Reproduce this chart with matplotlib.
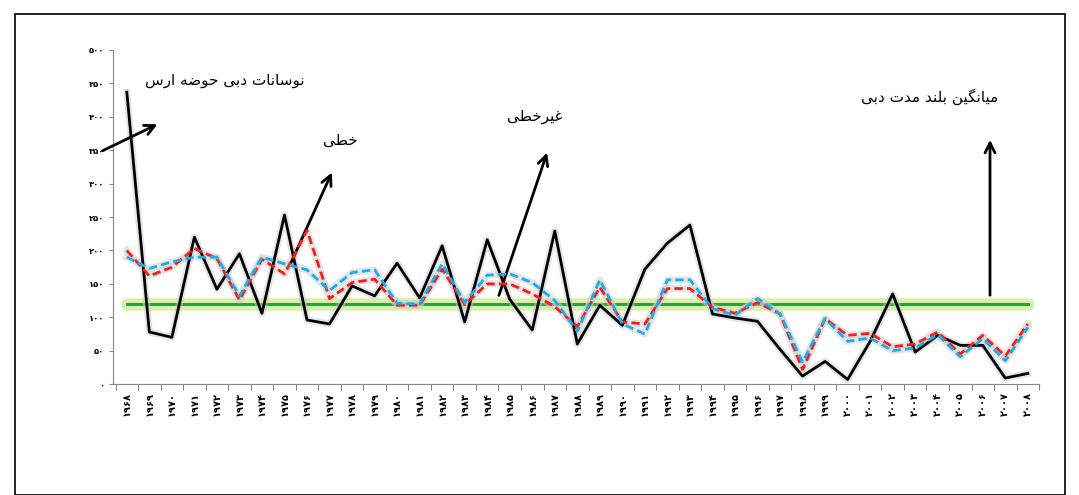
import matplotlib
matplotlib.use("Agg")
import matplotlib.pyplot as plt
from matplotlib.patches import Rectangle

years = list(range(1968, 2009))
observed = [437, 78, 70, 220, 142, 195, 106, 253, 96, 90, 147, 132, 181, 129, 207, 93,
            216, 127, 81, 229, 60, 118, 88, 172, 211, 238, 105, 99, 94, 52, 12, 34, 7,
            64, 135, 48, 73, 58, 58, 9, 16]
linear = [200, 162, 175, 203, 188, 126, 187, 165, 230, 128, 152, 157, 118, 118, 172, 119,
          150, 150, 135, 116, 86, 145, 93, 90, 143, 143, 115, 106, 122, 105, 22, 98, 73,
          76, 56, 60, 78, 45, 73, 42, 90]
nonlinear = [190, 173, 183, 190, 190, 132, 190, 180, 171, 140, 167, 171, 121, 120, 180, 122,
             163, 165, 152, 125, 79, 156, 90, 75, 156, 156, 113, 103, 128, 105, 33, 98, 64,
             69, 50, 54, 74, 41, 68, 35, 85]
mean_flow = 120
yticks = list(range(0, 501, 50))

FA = str.maketrans("0123456789", "۰۱۲۳۴۵۶۷۸۹")

# minimal Persian shaping: (isolated, final, initial, medial)
FORMS = {
    "ا": ("\uFE8D", "\uFE8E", None, None), "ب": ("\uFE8F", "\uFE90", "\uFE91", "\uFE92"),
    "ت": ("\uFE95", "\uFE96", "\uFE97", "\uFE98"), "ح": ("\uFEA1", "\uFEA2", "\uFEA3", "\uFEA4"),
    "خ": ("\uFEA5", "\uFEA6", "\uFEA7", "\uFEA8"), "د": ("\uFEA9", "\uFEAA", None, None),
    "ر": ("\uFEAD", "\uFEAE", None, None), "س": ("\uFEB1", "\uFEB2", "\uFEB3", "\uFEB4"),
    "ض": ("\uFEBD", "\uFEBE", "\uFEBF", "\uFEC0"), "ط": ("\uFEC1", "\uFEC2", "\uFEC3", "\uFEC4"),
    "غ": ("\uFECD", "\uFECE", "\uFECF", "\uFED0"), "ل": ("\uFEDD", "\uFEDE", "\uFEDF", "\uFEE0"),
    "م": ("\uFEE1", "\uFEE2", "\uFEE3", "\uFEE4"), "ن": ("\uFEE5", "\uFEE6", "\uFEE7", "\uFEE8"),
    "ه": ("\uFEE9", "\uFEEA", "\uFEEB", "\uFEEC"), "و": ("\uFEED", "\uFEEE", None, None),
    "ی": ("\uFBFC", "\uFBFD", "\uFBFE", "\uFBFF"), "گ": ("\uFB92", "\uFB93", "\uFB94", "\uFB95"),
}


def shape(text):
    out = []
    for i, c in enumerate(text):
        if c not in FORMS:
            out.append(c)
            continue
        prev = text[i - 1] if i > 0 else ""
        nxt = text[i + 1] if i + 1 < len(text) else ""
        joins_prev = prev in FORMS and FORMS[prev][2] is not None
        joins_next = nxt in FORMS and FORMS[c][2] is not None
        iso, fin, ini, med = FORMS[c]
        if joins_prev and joins_next:
            out.append(med)
        elif joins_prev:
            out.append(fin)
        elif joins_next:
            out.append(ini)
        else:
            out.append(iso)
    return "".join(out)[::-1]


plt.rcParams['font.family'] = ['DejaVu Sans']
fig = plt.figure(figsize=(10.79, 4.95), dpi=100)
fig.patches.append(Rectangle((0.014, 0.0), 0.973, 0.972, transform=fig.transFigure,
                             fill=False, edgecolor='black', linewidth=1.2))
ax = fig.add_axes([0.105, 0.224, 0.858, 0.675])

x = list(range(len(years)))
ax.plot([0, len(years) - 1], [mean_flow, mean_flow], color='#c6ec8a', lw=9, alpha=0.7,
        solid_capstyle='round', zorder=1)
ax.plot([0, len(years) - 1], [mean_flow, mean_flow], color='#1fa83a', lw=2.2, zorder=2)
for series in (observed, linear, nonlinear):
    ax.plot(x, series, color='#cccccc', lw=5, alpha=0.5, zorder=2)
ax.plot(x, observed, color='black', lw=2, zorder=3)
ax.plot(x, linear, color='#ff1a1a', lw=2, ls=(0, (3, 1.5)), zorder=4)
ax.plot(x, nonlinear, color='#1aaee8', lw=2, ls=(0, (3, 1.5)), zorder=5)

ax.set_xlim(-0.6, len(years) - 1 + 0.5)
ax.set_ylim(0, 500)
ax.set_yticks(yticks)
ax.set_yticklabels([str(v).translate(FA) for v in yticks], fontsize=6, fontweight='bold')
ax.set_xticks([i - 0.5 for i in range(len(years) + 1)], minor=False)
ax.set_xticklabels([])
ax.set_xticks(x, minor=True)
ax.set_xticklabels([str(y).translate(FA) for y in years], minor=True, rotation=90,
                   fontsize=7, fontweight='bold')
ax.tick_params(axis='x', which='minor', length=0, pad=6)
ax.tick_params(axis='x', which='major', length=4, color='#888888')
ax.tick_params(axis='y', length=3, color='#888888')
for s in ('top', 'right'):
    ax.spines[s].set_visible(False)
for s in ('left', 'bottom'):
    ax.spines[s].set_color('#888888')

H = 495
labels = [
    ("نوسانات دبی حوضه ارس", (225, 80), (100, 152), (160, 123)),
    ("خطی", (340, 140), (290, 265), (333, 170)),
    ("غیرخطی", (535, 117), (498, 298), (548, 150)),
    ("میانگین بلند مدت دبی", (930, 97), (990, 298), (990, 137)),
]
for txt, tpos, a0, a1 in labels:
    fig.text(tpos[0] / 1079, 1 - tpos[1] / H, shape(txt), ha='center', va='center', fontsize=11)
    ax.annotate('', xy=(a1[0], H - a1[1]), xytext=(a0[0], H - a0[1]),
                xycoords='figure pixels', textcoords='figure pixels',
                arrowprops=dict(arrowstyle='->', lw=2, color='black', mutation_scale=18),
                annotation_clip=False)

fig.savefig('out.png', dpi=100)
